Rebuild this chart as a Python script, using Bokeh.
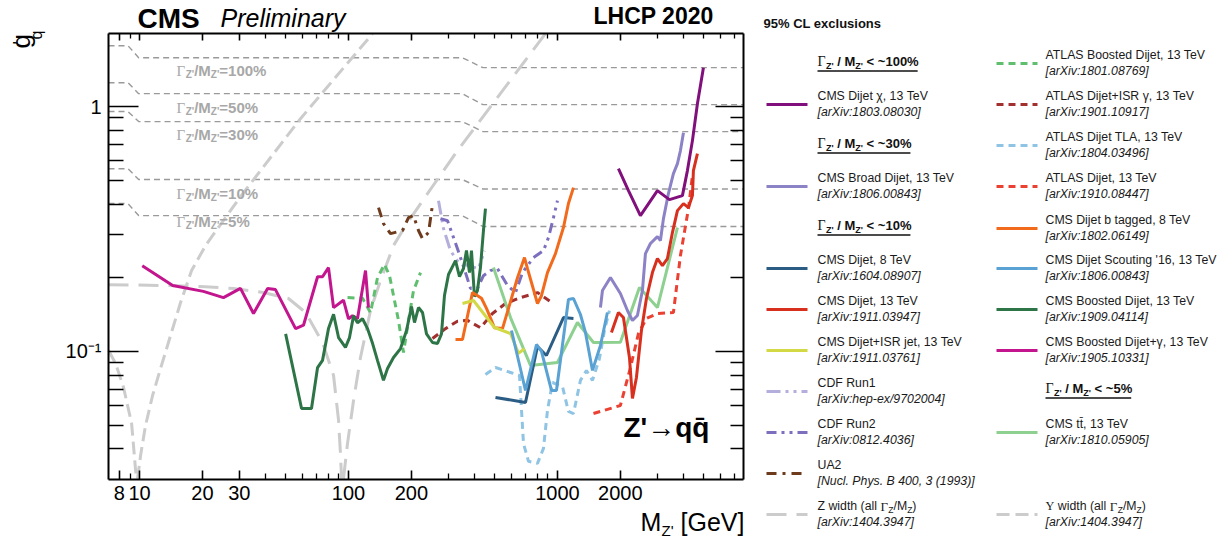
import math
from bokeh.plotting import figure
from bokeh.models import Range1d, FixedTicker, LogAxis, Label, CustomJSTickFormatter, ColumnDataSource
from bokeh.embed import file_html
from bokeh.resources import INLINE

NaN = float("nan")

# ------------------------------------------------------------------ data
# width contours g'_q for a fixed Gamma/M
width_mass = [7.1, 8.8, 9.9, 350.0, 440.0, 7770.0]
width_100 = [1.774, 1.774, 1.585, 1.585, 1.443, 1.443]
width_50 = [1.253, 1.253, 1.13, 1.13, 1.019, 1.019]
width_30 = [0.955, 0.955, 0.869, 0.869, 0.791, 0.791]
width_10 = [0.558, 0.558, 0.504, 0.504, 0.461, 0.461]
width_5 = [0.402, 0.402, 0.359, 0.359, 0.324, 0.324]
width_names = ["=100%", "=50%", "=30%", "=10%", "=5%"]

# Z width and Upsilon width limits (the dip below the axis is left out: NaN breaks the line)
z_mass = [7.1, 13.6, 19.6, 28.2, 39.2, 51.6, 62.3, 75.1, 84.8, 89.6, 91.6, 92.6, NaN,
          94.6, 98.9, 105.7, 114.1, 127.4, 142.3, 164.2, 191.6, 284.8, 332.3, 876.0]
z_g = [0.1875, 0.1859, 0.1842, 0.1808, 0.1741, 0.1646, 0.1443, 0.1088, 0.0798, 0.0523, 0.0376, 0.0302, NaN,
       0.0302, 0.0421, 0.0631, 0.0945, 0.147, 0.1949, 0.2709, 0.3361, 0.548, 0.6614, 1.986]
ups_mass = [7.11, 7.68, 8.38, 9.16, 9.57, 9.67, NaN, 9.78, 10.11, 10.68, 11.54, 12.6, 14.07,
            15.71, 17.74, 20.69, 30.4, 58.9, 130.3]
ups_g = [0.1009, 0.0893, 0.0713, 0.0508, 0.0327, 0.0302, NaN, 0.0302, 0.0376, 0.0499, 0.0661, 0.0852, 0.1162,
         0.1585, 0.2141, 0.2709, 0.4292, 0.8933, 1.986]

chi_m = [1958, 2187, 2495, 3009, 3435, 3964, 4188, 4426, 4676, 4995]
chi_g = [0.5583, 0.4542, 0.359, 0.4542, 0.4173, 0.4333, 0.548, 0.7266, 1.0285, 1.443]

broad_m = [1606, 1642, 1793, 2001, 2162, 2285, 2414, 2551, 2637, 2786, 3009, 3111, 3216, 3397, 3589, 3752, 3878, 4009]
broad_g = [0.1512, 0.1774, 0.2005, 0.1725, 0.147, 0.1338, 0.1403, 0.1774, 0.2512, 0.276, 0.2947, 0.2839,
           0.349, 0.4416, 0.5328, 0.5853, 0.6614, 0.7831]

dj8_m = [505.1, 703.0, 802.4, 885.9, 1068.3, 1193.0]
dj8_g = [0.0649, 0.0619, 0.1048, 0.0963, 0.1376, 0.1364]

dj13_m = [1813, 1958, 2069, 2211, 2285, 2388, 2523, 2666, 2848, 3009, 3180, 3360, 3550, 3752, 4009, 4236, 4426, 4474, 4676]
dj13_g = [0.1196, 0.1443, 0.1376, 0.0945, 0.0643, 0.0783, 0.1218, 0.1646, 0.2101, 0.2397, 0.2244, 0.2397,
          0.306, 0.3762, 0.4018, 0.387, 0.4333, 0.548, 0.6428]

isrjet_m = [351.2, 396.4, 499.5, 596.0, 651.0, 695.3]
isrjet_g = [0.157, 0.1615, 0.1253, 0.1184, 0.0983, 0.1028]

cdf1_m = [269.6, 284.8, 307.6, 336.0, 375.2, 418.8, 447.3]
cdf1_g = [0.413, 0.318, 0.258, 0.231, 0.224, 0.218, 0.258]

cdf2_m = [275.5, 297.7, 332.3, 362.9, 383.5, 414.1, 442.4, 477.9, 516.4, 576.7, 629.5, 680.0, 767.8,
          857.1, 905.7, 957.0, 1000.0]
cdf2_g = [0.349, 0.342, 0.263, 0.210, 0.181, 0.181, 0.204, 0.214, 0.218, 0.186, 0.174, 0.210, 0.242,
          0.258, 0.292, 0.352, 0.413]

ua2_m = [139.2, 147.0, 158.8, 181.3, 193.7, 204.6, 216.2, 226.0, 241.5, 252.3]
ua2_g = [0.387, 0.333, 0.303, 0.312, 0.352, 0.359, 0.312, 0.289, 0.306, 0.398]

aboost_m = [98.9, 116.7, 127.4, 137.6, 148.7, 157.1, 173.4, 183.3, 193.7, 204.6, 221.1]
aboost_g = [0.166, 0.165, 0.144, 0.200, 0.227, 0.204, 0.134, 0.099, 0.134, 0.177, 0.210]

aisr_m = [252.3, 291.2, 332.3, 371.1, 428.0, 488.7, 564.1, 665.3, 802.4, 946.4]
aisr_g = [0.113, 0.124, 0.133, 0.134, 0.125, 0.143, 0.157, 0.166, 0.174, 0.158]

tla_m = [452.3, 505.1, 596.0, 658.0, 687.6, 726.6, 802.4, 857.1, 895.7, 946.4, 1056.6, 1128.8, 1193.0,
         1288.3, 1376.5, 1471.0, 1588.5, 1678.3, 1773.0]
tla_g = [0.0806, 0.086, 0.0821, 0.0798, 0.0421, 0.0356, 0.0349, 0.0402, 0.0574, 0.0747, 0.072, 0.0569,
         0.0558, 0.0762, 0.0837, 0.0762, 0.0936, 0.1218, 0.147]

adj_m = [1487.0, 2001.0, 2236.0, 2441.0, 2666.0, 3009.0, 3589.0, 3878.0, 4236.0, 4426.0]
adj_g = [0.0558, 0.0602, 0.086, 0.1184, 0.1364, 0.1429, 0.1443, 0.2464, 0.3834, 0.5229]

btag_m = [325.1, 351.2, 392.0, 432.8, 457.5, 499.5, 545.6, 583.0, 643.8, 695.3, 718.7, 802.4, 838.5,
          895.7, 978.2, 1068.3, 1128.8, 1193.0]
btag_g = [0.112, 0.112, 0.174, 0.165, 0.150, 0.125, 0.124, 0.150, 0.200, 0.242, 0.218, 0.157, 0.169,
          0.210, 0.251, 0.321, 0.402, 0.467]

scout_m = [602.6, 651.0, 703.0, 793.6, 838.5, 936.1, 989.0, 1128.8, 1193.0, 1288.3, 1361.3, 1471.0, 1606.0, 1734.0]
scout_g = [0.1218, 0.0919, 0.0693, 0.1068, 0.1, 0.0693, 0.0693, 0.1631, 0.1646, 0.1416, 0.1196, 0.0837,
           0.1058, 0.1443]

boost_m = [50.0, 59.6, 66.5, 71.1, 75.1, 80.2, 84.8, 89.6, 96.7, 101.1, 105.7, 110.4, 116.7, 123.3, 130.3,
           137.6, 147.0, 153.7, 164.2, 177.4, 189.5, 200.2, 206.9, 216.2, 226.0, 236.2, 252.3, 266.6, 278.6,
           287.9, 301.0, 325.1, 339.7, 355.0, 366.9, 379.3, 387.7, 400.7, 414.1, 428.0, 442.4, 452.3]
boost_g = [0.118, 0.0585, 0.0585, 0.086, 0.092, 0.124, 0.142, 0.114, 0.104, 0.114, 0.140, 0.131, 0.136,
           0.124, 0.108, 0.092, 0.0762, 0.0852, 0.0945, 0.1028, 0.1218, 0.1527, 0.1313, 0.1512, 0.1443,
           0.118, 0.1088, 0.1078, 0.118, 0.1693, 0.2062, 0.2351, 0.2024, 0.2182, 0.2584, 0.2101, 0.2584,
           0.1677, 0.1774, 0.2203, 0.3118, 0.3834]

boostg_m = [10.3, 14.4, 20.2, 25.2, 30.4, 35.1, 41.0, 44.7, 55.8, 60.9, 71.1, 75.1, 80.2, 84.8, 94.6,
            100.0, 104.5, 110.4, 120.6, 124.6]
boostg_g = [0.224, 0.186, 0.176, 0.166, 0.181, 0.143, 0.181, 0.179, 0.124, 0.128, 0.202, 0.202, 0.220,
            0.151, 0.162, 0.136, 0.140, 0.136, 0.214, 0.151]

tt_m = [494.0, 596.0, 742.9, 1000.0, 1246.4, 1487.0, 2001.0, 2468.0, 3009.0, 3752.0]
tt_g = [0.2203, 0.1376, 0.0877, 0.0902, 0.1313, 0.1088, 0.109, 0.1825, 0.1512, 0.3208]

x_tick_values = [8, 10, 20, 30, 100, 200, 1000, 2000]
x_tick_labels = ["8", "10", "20", "30", "100", "200", "1000", "2000"]
x_minor_values = [9, 40, 50, 60, 70, 80, 90, 300, 400, 500, 600, 700, 800, 900, 3000, 4000, 5000, 6000, 7000]
y_tick_values = [0.1, 1.0]
y_tick_labels = ["10\u207b\u00b9", "1"]
y_minor_values = [0.04, 0.05, 0.06, 0.07, 0.08, 0.09, 0.2, 0.3, 0.4, 0.5, 0.6, 0.7, 0.8, 0.9]

# series: key -> (name, reference, mass, g)
SERIES = {
    "chi": ("CMS Dijet \u03c7, 13 TeV", "[arXiv:1803.08030]", chi_m, chi_g),
    "broad": ("CMS Broad Dijet, 13 TeV", "[arXiv:1806.00843]", broad_m, broad_g),
    "dj8": ("CMS Dijet, 8 TeV", "[arXiv:1604.08907]", dj8_m, dj8_g),
    "dj13": ("CMS Dijet, 13 TeV", "[arXiv:1911.03947]", dj13_m, dj13_g),
    "isrjet": ("CMS Dijet+ISR jet, 13 TeV", "[arXiv:1911.03761]", isrjet_m, isrjet_g),
    "cdf1": ("CDF Run1", "[arXiv:hep-ex/9702004]", cdf1_m, cdf1_g),
    "cdf2": ("CDF Run2", "[arXiv:0812.4036]", cdf2_m, cdf2_g),
    "ua2": ("UA2", "[Nucl. Phys. B 400, 3 (1993)]", ua2_m, ua2_g),
    "aboost": ("ATLAS Boosted Dijet, 13 TeV", "[arXiv:1801.08769]", aboost_m, aboost_g),
    "aisr": ("ATLAS Dijet+ISR \u03b3, 13 TeV", "[arXiv:1901.10917]", aisr_m, aisr_g),
    "tla": ("ATLAS Dijet TLA, 13 TeV", "[arXiv:1804.03496]", tla_m, tla_g),
    "adj": ("ATLAS Dijet, 13 TeV", "[arXiv:1910.08447]", adj_m, adj_g),
    "btag": ("CMS Dijet b tagged, 8 TeV", "[arXiv:1802.06149]", btag_m, btag_g),
    "scout": ("CMS Dijet Scouting '16, 13 TeV", "[arXiv:1806.00843]", scout_m, scout_g),
    "boost": ("CMS Boosted Dijet, 13 TeV", "[arXiv:1909.04114]", boost_m, boost_g),
    "boostg": ("CMS Boosted Dijet+\u03b3, 13 TeV", "[arXiv:1905.10331]", boostg_m, boostg_g),
    "tt": ("CMS tt\u0304, 13 TeV", "[arXiv:1810.05905]", tt_m, tt_g),
    "zw": ("Z", "[arXiv:1404.3947]", z_mass, z_g),
    "uw": ("\u03a5", "[arXiv:1404.3947]", ups_mass, ups_g),
}

# ------------------------------------------------------------------ styles
STYLE = {
    "chi": ("#810f7c", "solid"), "broad": ("#8c82c6", "solid"), "dj8": ("#2b5d84", "solid"),
    "dj13": ("#d7301f", "solid"), "isrjet": ("#d3d845", "solid"), "cdf1": ("#b3aedb", "14 5 3 5 3 5"),
    "cdf2": ("#7d6fbe", "10 5 3 5 3 5"), "ua2": ("#6e3b1d", "10 6 3 6"), "aboost": ("#5fbf6f", "7 5"),
    "aisr": ("#a2302e", "7 5"), "tla": ("#8fc4e4", "7 5"), "adj": ("#ea4133", "7 5"),
    "btag": ("#f26a1b", "solid"), "scout": ("#5aa2d3", "solid"), "boost": ("#2d7446", "solid"),
    "boostg": ("#c2158e", "solid"), "tt": ("#8dd08f", "solid"),
    "zw": ("#cccccc", "20 10"), "uw": ("#cccccc", "13 6"),
}
DRAW_ORDER = ["zw", "uw", "ua2", "cdf1", "cdf2", "aboost", "aisr", "tla", "adj", "tt", "boostg", "boost",
              "btag", "isrjet", "dj8", "scout", "broad", "dj13", "chi"]

FONT = "Liberation Sans"
SERIF = "Liberation Serif"

# ------------------------------------------------------------------ geometry (canvas pixels)
CW, CH = 1227, 540
X0, X1 = 7.1, 7770.0          # axis extent
Y0, Y1 = 0.030, 1.99
FL, FT, FW, FH = 108.0, 33.0, 635.0, 446.0   # plot box on the canvas
LX0, LX1, LY0, LY1 = math.log10(X0), math.log10(X1), math.log10(Y0), math.log10(Y1)
PPX = FW / (LX1 - LX0)
PPY = FH / (LY1 - LY0)
XS, XE = 10 ** (LX0 - FL / PPX), 10 ** (LX0 + (CW - FL) / PPX)
YS, YE = 10 ** (LY0 - (CH - FT - FH) / PPY), 10 ** (LY1 + FT / PPY)


def to_data(px, py):
    return 10 ** (LX0 + (px - FL) / PPX), 10 ** (LY1 - (py - FT) / PPY)


p = figure(width=CW, height=CH, x_axis_type="log", y_axis_type="log",
           x_axis_location=None, y_axis_location=None,
           x_range=Range1d(XS, XE), y_range=Range1d(YS, YE),
           output_backend="svg", toolbar_location=None, min_border=0,
           min_border_left=0, min_border_right=0, min_border_top=0, min_border_bottom=0)
p.title.visible = False
p.grid.visible = False
p.outline_line_color = None
p.background_fill_color = "white"
p.border_fill_color = "white"

nearest = ("let b = 0; for (let i = 0; i < v.length; i++) {"
           " if (Math.abs(Math.log(v[i] / tick)) < Math.abs(Math.log(v[b] / tick))) b = i; }"
           " return l[b];")


def make_axis(ticker, bounds, loc, tin, tmin, labels=None, standoff=6):
    ax = LogAxis(ticker=ticker, bounds=bounds, fixed_location=loc)
    ax.major_tick_in = tin
    ax.major_tick_out = 0
    ax.minor_tick_in = tmin
    ax.minor_tick_out = 0
    ax.axis_line_color = "black"
    ax.axis_line_width = 2
    ax.major_tick_line_color = "black"
    ax.major_tick_line_width = 1.6
    ax.minor_tick_line_color = "black"
    ax.minor_tick_line_width = 1.3
    if labels is None:
        ax.formatter = CustomJSTickFormatter(code="return '';")
        ax.major_label_text_font_size = "0px"
        ax.major_label_standoff = 0
    else:
        vals, labs = labels
        ax.formatter = CustomJSTickFormatter(args=dict(v=vals, l=labs), code=nearest)
        ax.major_label_text_font = FONT
        ax.major_label_text_font_size = "20px"
        ax.major_label_text_color = "black"
        ax.major_label_standoff = standoff
    return ax


xt = FixedTicker(ticks=x_tick_values, minor_ticks=x_minor_values)
yt = FixedTicker(ticks=y_tick_values, minor_ticks=y_minor_values)
p.add_layout(make_axis(xt, (X0, X1), Y0, 9, 6, (x_tick_values, x_tick_labels), 6), "below")
p.add_layout(make_axis(xt, (X0, X1), Y1, 7, 5), "above")
p.add_layout(make_axis(yt, (Y0, Y1), X0, 30, 15, (y_tick_values, y_tick_labels), 7), "left")
p.add_layout(make_axis(yt, (Y0, Y1), X1, 28, 13), "right")

# ------------------------------------------------------------------ curves
for wg in [width_100, width_50, width_30, width_10, width_5]:
    p.line(width_mass, wg, line_color="#9a9a9a", line_width=1.4, line_dash="6 4")

for key in DRAW_ORDER:
    name, ref, m, g = SERIES[key]
    col, dash = STYLE[key]
    src = ColumnDataSource(dict(m=m, g=g))
    p.line("m", "g", source=src, line_color=col, line_width=3, line_dash=dash)

# ------------------------------------------------------------------ texts
W = {' ': .278, ',': .278, '.': .278, ':': .278, '/': .278, "'": .238, '(': .333, ')': .333,
     '<': .584, '~': .584, '=': .584, '%': .889, 'M': .833, 'Z': .611, '\u0393': .611, '\u03a5': .722,
     'w': .722, 'i': .222, 'l': .222, 't': .278, 'd': .556, 'h': .556, 'a': .556}


def tw(s, size):
    return sum(W.get(c, .556) for c in s) * size


def lab(px, py, text, size, style="normal", color="black", angle=0.0, font=FONT):
    X, Y = to_data(px, py)
    p.add_layout(Label(x=X, y=Y, text=text, text_font=font, text_font_size=f"{size}px",
                       text_font_style=style, text_color=color, angle=angle,
                       text_baseline="middle", text_align="left"))


def rich(x, y, parts, color):
    cx = x
    for text, size, style, dy, font in parts:
        body = text.lstrip(" ")
        cx += (len(text) - len(body)) * W[' '] * size
        lab(cx, y + dy, body, size, style, color, font=font)
        cx += tw(body, size)
    return cx


# width-contour labels
for txt, py in zip(width_names, [70, 107, 134, 193, 221]):
    rich(176, py, [("\u0393", 15, "normal", 0, SERIF), ("Z'", 10, "bold", 4, FONT),
                   ("/M", 15, "bold", 0, FONT), ("Z'", 10, "bold", 4, FONT),
                   (txt, 15, "bold", 0, FONT)], "#a8a8a8")

lab(137, 17.5, "CMS", 28, "bold")
lab(220, 17, "Preliminary", 25, "italic")
lab(593, 15, "LHCP 2020", 23, "bold")
lab(623, 427, "Z'\u2192qq\u0304", 28, "bold")
# axis titles
lab(640, 521, "M", 25)
lab(661, 530, "Z'", 15)
lab(680, 521, "[GeV]", 25)
lab(20, 48, "g", 26, angle=math.pi / 2)
lab(19, 44, "'", 18, angle=math.pi / 2)
lab(35.5, 39, "q", 16, angle=math.pi / 2)

# ------------------------------------------------------------------ legend
lab(763, 23, "95% CL exclusions", 13, "bold", "#111111")

HEADERS = [("< ~100%", 0, 61), ("< ~30%", 0, 143), ("< ~10%", 0, 225), ("< ~5%", 1, 388)]
LEG_ROWS = [("chi", 0, 104), ("broad", 0, 186), ("dj8", 0, 268), ("dj13", 0, 309), ("isrjet", 0, 350),
            ("cdf1", 0, 391), ("cdf2", 0, 432), ("ua2", 0, 473), ("zw", 0, 514),
            ("aboost", 1, 63), ("aisr", 1, 104), ("tla", 1, 145), ("adj", 1, 186), ("btag", 1, 228),
            ("scout", 1, 268), ("boost", 1, 309), ("boostg", 1, 350), ("tt", 1, 432), ("uw", 1, 514)]
COL_LINE = [(766, 807), (996, 1037)]
COL_TEXT = [817, 1045]
TXT = "#1a1a1a"

for txt, c, y in HEADERS:
    x0 = COL_TEXT[c]
    x1 = rich(x0, y, [("\u0393", 14, "normal", 0, SERIF), ("Z'", 9, "bold", 4, FONT),
                      (" / M", 13, "bold", 0, FONT), ("Z'", 9, "bold", 4, FONT),
                      (" " + txt, 13, "bold", 0, FONT)], "#111111")
    (ax0, ay), (ax1, _) = to_data(x0, y + 9.5), to_data(x1 - 1, y + 9.5)
    p.segment(x0=[ax0], y0=[ay], x1=[ax1], y1=[ay], line_color="#111111", line_width=1.6)

for key, c, y in LEG_ROWS:
    name, ref, m, g = SERIES[key]
    col, dash = STYLE[key]
    (ax0, ay), (ax1, _) = to_data(COL_LINE[c][0], y), to_data(COL_LINE[c][1], y)
    p.segment(x0=[ax0], y0=[ay], x1=[ax1], y1=[ay], line_color=col, line_width=3, line_dash=dash)
    tx = COL_TEXT[c]
    if key in ("zw", "uw"):
        rich(tx, y - 8.5, [(name, 12.3, "normal", 0, SERIF if key == "uw" else FONT),
                           (" width (all ", 12.3, "normal", 0, FONT), ("\u0393", 13, "normal", 0, SERIF),
                           ("Z", 8.5, "normal", 3.5, FONT), ("/M", 12.3, "normal", 0, FONT),
                           ("Z", 8.5, "normal", 3.5, FONT), (")", 12.3, "normal", 0, FONT)], TXT)
    else:
        lab(tx, y - 8.5, name, 12.3, "normal", TXT)
    lab(tx, y + 7.5, ref, 12.3, "italic", TXT)

open("out.html", "w").write(file_html(p, INLINE))
